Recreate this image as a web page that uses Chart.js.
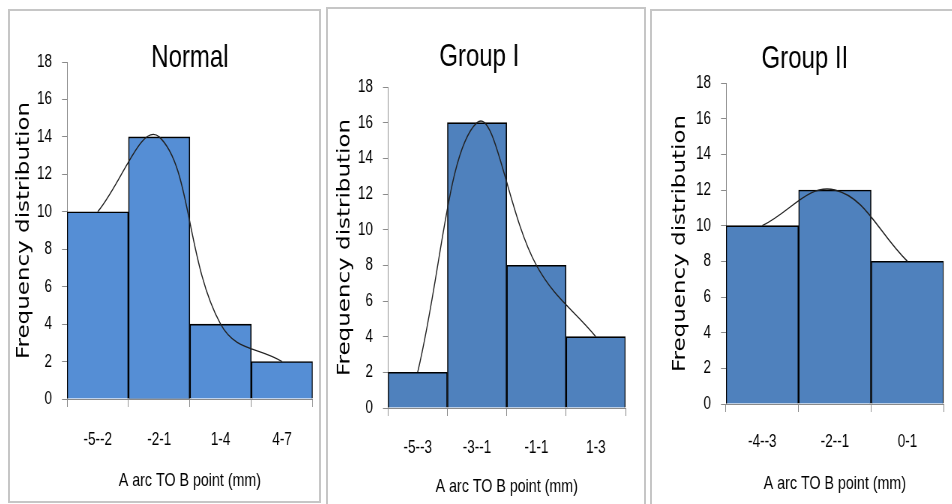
<!DOCTYPE html>
<html>
<head>
<meta charset="utf-8">
<script src="https://cdn.jsdelivr.net/npm/chart.js@4.4.1/dist/chart.umd.min.js"></script>
<style>
  body { margin: 0; background: #fff; width: 952px; height: 504px; overflow: hidden; position: relative; }
  .panel { position: absolute; border: 2px solid #c6c6c6; box-sizing: border-box; background: #fff; }
  /* the original charts are squeezed sideways, so the canvases are too */
  canvas { position: absolute; transform: scaleX(0.75); transform-origin: 0 0; }
</style>
</head>
<body>
<div class="panel" style="left:8px;top:9px;width:313px;height:494px"></div>
<div class="panel" style="left:326px;top:7px;width:320px;height:520px"></div>
<div class="panel" style="left:650px;top:9px;width:320px;height:520px"></div>
<canvas id="normal"></canvas>
<canvas id="group1"></canvas>
<canvas id="group2"></canvas>
<script>
// values
var normalLabels = ['-5--2', '-2-1', '1-4', '4-7'];
var normalCounts = [10, 14, 4, 2];

var group1Labels = ['-5--3', '-3--1', '-1-1', '1-3'];
var group1Counts = [2, 16, 8, 4];

var group2Labels = ['-4--3', '-2--1', '0-1'];
var group2Counts = [10, 12, 8];

var yMin = 0, yMax = 18, yStep = 2;
var xTitle = 'A arc TO B point (mm)';
var yTitle = 'Frequency distribution';

var sans = '"Liberation Sans", Arial, sans-serif';
var axisGrey = '#8a8a8a';

function makeChart(id, title, labels, counts, barColor, g) {
  var canvas = document.getElementById(id);
  canvas.width = g.w;
  canvas.height = g.h;
  canvas.style.left = g.left + 'px';
  canvas.style.top = g.top + 'px';

  return new Chart(canvas, {
    data: {
      labels: labels,
      datasets: [{
        type: 'line',
        data: counts,
        borderColor: '#222',
        borderWidth: 1.4,
        pointRadius: 0,
        tension: 0.4,
        fill: false,
        order: 0
      }, {
        type: 'bar',
        data: counts,
        backgroundColor: barColor,
        borderColor: '#000',
        borderWidth: 1.6,
        barPercentage: 1,
        categoryPercentage: 1,
        order: 1
      }]
    },
    options: {
      responsive: false,
      animation: false,
      devicePixelRatio: 1,
      layout: { padding: { left: 0, right: g.padRight, top: 0, bottom: 0 } },
      plugins: {
        legend: { display: false },
        tooltip: { enabled: false },
        title: {
          display: true,
          text: title,
          color: '#000',
          fullSize: g.fullSize,
          font: { family: sans, size: 32, weight: 'normal', lineHeight: 1.2 },
          padding: { top: g.titleTop, bottom: g.titleBottom }
        }
      },
      scales: {
        x: {
          type: 'category',
          offset: true,
          grid: { offset: true, drawOnChartArea: false, tickLength: 8, color: axisGrey },
          border: { color: axisGrey },
          ticks: { color: '#000', maxRotation: 0, padding: g.xTickPad, font: { family: sans, size: 18 } },
          title: {
            display: true, text: xTitle, color: '#000',
            font: { family: sans, size: 19, lineHeight: 1.2 },
            padding: { top: 0, bottom: g.xTitleBottom }
          },
          afterFit: function (s) { s.height = g.xH; }
        },
        y: {
          min: yMin,
          max: yMax,
          grid: { drawOnChartArea: false, tickLength: 6.67, color: axisGrey },
          border: { color: axisGrey },
          ticks: { stepSize: yStep, color: '#000', padding: 13.3, font: { family: sans, size: 18 } },
          title: {
            display: true, text: yTitle, color: '#000',
            font: { family: '"DejaVu Sans", Verdana, sans-serif', size: 23, lineHeight: 1.2 },
            padding: { top: g.yTitlePad, bottom: 0 }
          },
          afterFit: function (s) { s.width = g.yW; }
        }
      }
    }
  });
}

// w and the x-sizes are in canvas units (page px / 0.75)
makeChart('normal', 'Normal', normalLabels, normalCounts, '#558ed5', {
  left: 10, top: 11, w: 413.3, h: 493, padRight: 9.3, fullSize: false,
  titleTop: 27.8, titleBottom: -15.2, yW: 76, yTitlePad: 4.9,
  xH: 105, xTickPad: 22.2, xTitleBottom: 11.6
});

makeChart('group1', 'Group I', group1Labels, group1Counts, '#4f81bd', {
  left: 333, top: 9, w: 414.7, h: 495, padRight: 24, fullSize: true,
  titleTop: 28.8, titleBottom: 10.8, yW: 73.3, yTitlePad: 2.2,
  xH: 96, xTickPad: 21.2, xTitleBottom: 5.6
});

makeChart('group2', 'Group II', group2Labels, group2Counts, '#4f81bd', {
  left: 666, top: 11, w: 381.3, h: 493, padRight: 10.7, fullSize: true,
  titleTop: 28.8, titleBottom: 4.8, yW: 80, yTitlePad: 4.9,
  xH: 100, xTickPad: 19.4, xTitleBottom: 8.6
});
</script>
</body>
</html>
